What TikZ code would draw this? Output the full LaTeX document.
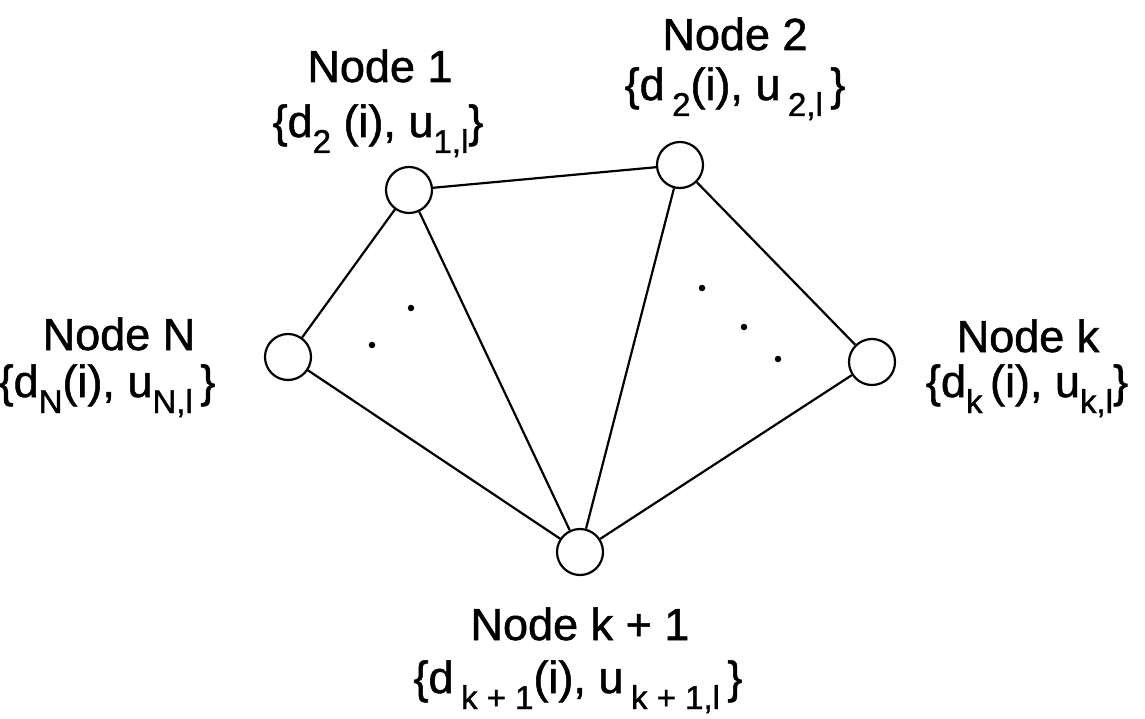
\documentclass[tikz,border=0pt]{standalone}
\usepackage{fontspec}
\setmainfont{Liberation Sans}[BoldFont=Liberation Sans,BoldFeatures={FakeBold=1.2}]
\newcommand{\sbs}[1]{\raisebox{-16pt}{\fontsize{33}{33}\selectfont #1}}
\begin{document}
\begin{tikzpicture}[x=1pt,y=-1pt,
  vtx/.style={circle,draw,line width=2.2pt,minimum size=46pt,inner sep=0pt},
  edge/.style={line width=2.2pt},
  lbl/.style={anchor=base,inner sep=0pt,font=\fontsize{45}{45}\selectfont\bfseries},
  dotmark/.style={circle,fill,inner sep=0pt,minimum size=6.5pt}]
\useasboundingbox (0,0) rectangle (1145,719);
% vertices
\node[vtx] (n1) at (409,190) {};
\node[vtx] (n2) at (680,165) {};
\node[vtx] (nN) at (288,357) {};
\node[vtx] (nk) at (872,362) {};
\node[vtx] (nk1) at (580,552) {};
% edges
\draw[edge] (nN) -- (n1);
\draw[edge] (n1) -- (n2);
\draw[edge] (n1) -- (nk1);
\draw[edge] (n2) -- (nk1);
\draw[edge] (n2) -- (nk);
\draw[edge] (nk) -- (nk1);
\draw[edge] (nN) -- (nk1);
% dots
\node[dotmark] (d1) at (411,308) {};
\node[dotmark] (d2) at (372,345) {};
\node[dotmark] (d3) at (702,288) {};
\node[dotmark] (d4) at (744,327) {};
\node[dotmark] (d5) at (778,359) {};
% labels
\node[lbl] (t1a) at (380,82) {Node 1};
\node[lbl] (t1b) at (378,137) {\{d\sbs{2} (i), u\sbs{1,l}\}};
\node[lbl] (t2a) at (735,50) {Node 2};
\node[lbl] (t2b) at (735,100) {\{d\,\sbs{2}(i), u\,\sbs{2,l}\,\}};
\node[lbl] (tNa) at (119,350) {Node N};
\node[lbl] (tNb) at (107,397) {\{d\sbs{N}(i), u\sbs{N,l}\,\}};
\node[lbl] (tka) at (1028,352) {Node k};
\node[lbl] (tkb) at (1027,397) {\{d\sbs{k}\,(i), u\sbs{k,l}\}};
\node[lbl] (tk1a) at (580,640) {Node k + 1};
\node[lbl] (tk1b) at (578,693) {\{d\,\sbs{k + 1}(i), u\,\sbs{k + 1,l}\,\}};
\end{tikzpicture}
\end{document}
